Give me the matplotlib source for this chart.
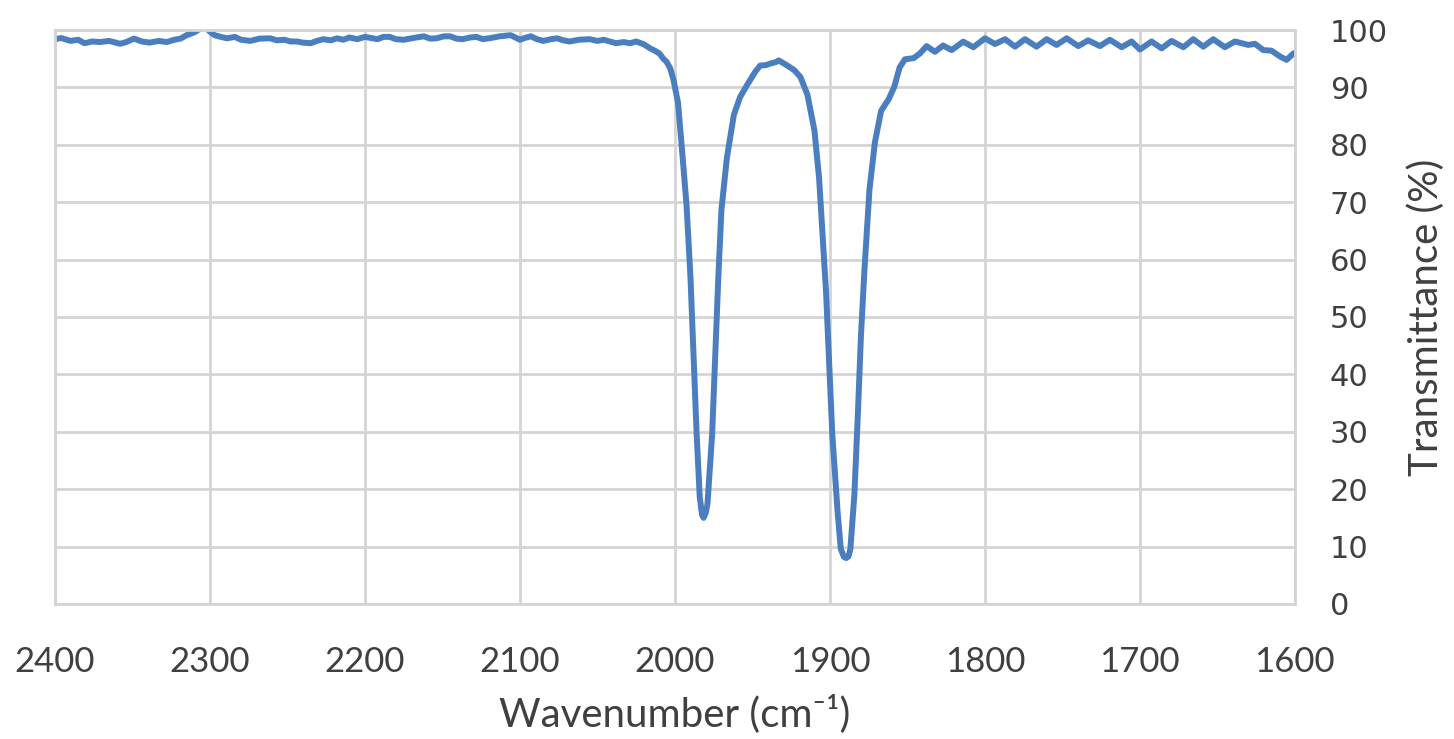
import matplotlib
matplotlib.use("Agg")
import matplotlib.pyplot as plt

# spectrum (wavenumber in cm-1, transmittance in %)
wavenumber = [
    2400, 2396, 2390, 2385, 2381, 2376, 2371, 2365, 2358, 2354,
    2349, 2344, 2339, 2333, 2328, 2323, 2319, 2315, 2310, 2306,
    2303, 2300, 2297, 2293, 2289, 2284, 2280, 2274, 2268, 2261,
    2257, 2252, 2248, 2244, 2240, 2235, 2231, 2227, 2222, 2218,
    2214, 2210, 2205, 2200, 2196, 2192, 2188, 2184, 2180, 2175,
    2169, 2162, 2158, 2154, 2149, 2145, 2141, 2137, 2132, 2128,
    2124, 2119, 2113, 2106, 2103, 2100, 2097, 2093, 2089, 2085,
    2080, 2076, 2072, 2068, 2062, 2055, 2050, 2046, 2042, 2038,
    2033, 2029, 2025, 2020, 2016, 2013, 2010, 2007.5, 2005.5, 2003,
    2001, 1998, 1995, 1992.5, 1990, 1988, 1986, 1984, 1982.5, 1981.5,
    1980, 1979, 1976, 1974, 1972, 1970, 1966.5, 1962, 1958, 1953.5,
    1948, 1945, 1941, 1938, 1935, 1933, 1930, 1927.5, 1923, 1919,
    1914.5, 1910, 1907, 1905, 1902.5, 1900.5, 1898.5, 1895, 1893, 1891,
    1889.5, 1888, 1886.8, 1884.2, 1882, 1880, 1877.7, 1874.5, 1871, 1867,
    1862, 1858.5, 1855, 1851.6, 1846, 1842, 1837.6, 1832.3, 1827, 1821.5,
    1814, 1807.5, 1800, 1793.5, 1787, 1780.6, 1774.2, 1766.7, 1760.2, 1753.8,
    1747.3, 1739.8, 1733.4, 1725.8, 1719.4, 1711.8, 1705.4, 1700, 1692.5, 1686,
    1679.6, 1672, 1665.6, 1659.1, 1652.7, 1645.2, 1638.7, 1630.1, 1625.8, 1620.4,
    1615.1, 1609.7, 1605.4, 1601, 1600,
]
transmittance = [
    98.4, 98.6, 98.1, 98.3, 97.7, 98.0, 97.9, 98.1, 97.6, 97.9,
    98.5, 98.0, 97.8, 98.1, 97.9, 98.3, 98.5, 99.1, 99.6, 100.3,
    100.6, 99.7, 99.1, 98.8, 98.55, 98.8, 98.3, 98.1, 98.5, 98.55,
    98.2, 98.3, 98.0, 98.0, 97.8, 97.7, 98.1, 98.4, 98.2, 98.55,
    98.3, 98.7, 98.4, 98.8, 98.6, 98.4, 98.8, 98.8, 98.4, 98.3,
    98.6, 98.9, 98.5, 98.55, 98.9, 98.9, 98.5, 98.4, 98.7, 98.8,
    98.4, 98.6, 98.9, 99.1, 98.7, 98.3, 98.6, 98.9, 98.4, 98.1,
    98.4, 98.55, 98.2, 98.0, 98.3, 98.4, 98.1, 98.3, 98.0, 97.7,
    97.9, 97.7, 98.0, 97.5, 96.8, 96.4, 95.9, 95.0, 94.5, 93.3,
    91.4, 87.3, 77.7, 69.4, 57.0, 43.3, 29.6, 18.6, 15.5, 15.0,
    16.0, 17.5, 29.6, 43.3, 57.0, 68.7, 77.7, 85.2, 88.3, 90.4,
    92.8, 93.8, 93.9, 94.2, 94.4, 94.7, 94.2, 93.8, 93.0, 91.8,
    88.7, 82.5, 74.2, 65.3, 54.3, 41.9, 29.6, 15.8, 9.6, 8.2,
    8.0, 8.3, 9.6, 19.2, 33.0, 46.7, 58.4, 72.2, 80.4, 85.9,
    88.0, 90.1, 93.5, 94.9, 95.1, 95.9, 97.2, 96.2, 97.3, 96.5,
    97.97, 97.0, 98.55, 97.56, 98.4, 97.1, 98.4, 97.1, 98.4, 97.4,
    98.55, 97.2, 98.2, 97.2, 98.3, 97.0, 98.0, 96.6, 98.0, 96.8,
    98.1, 97.0, 98.4, 97.1, 98.4, 97.0, 98.0, 97.4, 97.6, 96.5,
    96.4, 95.4, 94.8, 95.9, 96.0,
]

x_ticks = [2400, 2300, 2200, 2100, 2000, 1900, 1800, 1700, 1600]
y_ticks = [0, 10, 20, 30, 40, 50, 60, 70, 80, 90, 100]

grid_col = "#d4d4d4"
text_col = "#404040"

fig = plt.figure(figsize=(14.54, 7.39), dpi=100)
ax = fig.add_axes([0.0378, 0.1827, 0.8528, 0.7767])

ax.plot(wavenumber, transmittance, color="#4a7ebf", lw=4.3, solid_joinstyle="round")

ax.set_xlim(2400, 1600)
ax.set_ylim(0, 100)
ax.set_xticks(x_ticks)
ax.set_yticks(y_ticks)
ax.yaxis.tick_right()
ax.yaxis.set_label_position("right")
ax.tick_params(length=0)
ax.tick_params(axis="x", pad=30, labelsize=25, labelcolor=text_col)
ax.tick_params(axis="y", pad=25, labelsize=22, labelcolor=text_col)
for lab in ax.get_xticklabels():
    lab.set_family(["Lato", "DejaVu Sans"])

ax.grid(True, color=grid_col, lw=2.0)
ax.set_axisbelow(True)
for sp in ax.spines.values():
    sp.set_color(grid_col)
    sp.set_linewidth(2.0)

ax.set_xlabel("Wavenumber (cm\u207b\u00b9)", fontsize=29, color=text_col,
              family=["Lato", "DejaVu Sans"], labelpad=12)
ax.set_ylabel("Transmittance (%)", fontsize=29, color=text_col,
              family=["Lato", "DejaVu Sans"], labelpad=14)

fig.savefig("out.png", dpi=100, facecolor="white")
